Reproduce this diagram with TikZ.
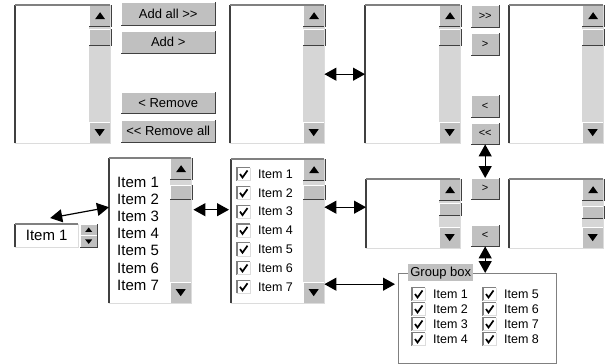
\documentclass[tikz,border=0pt]{standalone}
\usepackage{fontspec}
\setmainfont{Liberation Sans}[Ligatures=TeXOff]
\usetikzlibrary{arrows.meta, calc}
\definecolor{face}{RGB}{192, 192, 192}
\definecolor{dim}{RGB}{64, 64, 64}
\definecolor{rim}{RGB}{128, 128, 128}
\definecolor{pale}{RGB}{220, 220, 220}
\definecolor{track}{RGB}{214, 214, 214}

% raised edge of a button node
\newcommand{\bevel}[1]{%
  \draw[color=white] (#1.south west) -- (#1.north west) -- (#1.north east);
  \draw[color=dim, line width=1.5pt] (#1.south west) -- (#1.south east) -- (#1.north east);
}
% sunken edge of a list node
\newcommand{\sunk}[1]{%
  \draw[color=dim, line width=1.6pt] (#1.south west) -- (#1.north west);
  \draw[color=rim, line width=1.2pt] (#1.north west) -- (#1.north east);
  \draw[color=pale] (#1.north east) -- (#1.south east) -- (#1.south west);
}
% scroll bar: list node, thumb offset, thumb length
\newcommand{\scrl}[3]{%
  \path (#1.north east) ++(-21,0) coordinate (s1) ++(0,#2) coordinate (s2);
  \fill[color=track] (s1) rectangle (#1.south east);
  \node[push, minimum width=21pt, minimum height=21pt] (#1up) at (s1) {};
  \bevel{#1up}
  \fill (#1up.center) ++(-5,3.5) -- ++(10,0) -- ++(-5,-7) -- cycle;
  \node[push, minimum width=21pt, minimum height=#3pt] (#1th) at (s2) {};
  \bevel{#1th}
  \node[push, minimum width=21pt, minimum height=21pt, anchor=south east] (#1dn) at (#1.south east) {};
  \bevel{#1dn}
  \fill (#1dn.center) ++(-5,-3.5) -- ++(10,0) -- ++(-5,7) -- cycle;
}
% ticked check box at top left corner
\newcommand{\tickbox}[2]{%
  \fill[color=white] (#1,#2) rectangle ++(13,13);
  \draw[color=rim, line width=1.2pt] (#1,#2) ++(0,13) -- ++(0,-13) -- ++(13,0);
  \draw[color=pale] (#1,#2) ++(13,0) -- ++(0,13) -- ++(-13,0);
  \draw[line width=1.7pt] (#1,#2) ++(3,6.5) -- ++(2.5,3.5) -- ++(5,-7);
}

\begin{document}
\begin{tikzpicture}[x=1pt, y=-1pt,
  box/.style={fill=white, inner sep=0pt, anchor=north west},
  push/.style={fill=face, inner sep=0pt, anchor=north west, font=\fontsize{13}{15}\selectfont},
  tiny/.style={push, minimum width=28pt, font=\fontsize{11}{13}\selectfont},
  itm/.style={anchor=west, inner sep=0pt, font=\fontsize{15}{17}\selectfont},
  sml/.style={anchor=west, inner sep=0pt, font=\fontsize{12.5}{14}\selectfont},
  link/.style={<->, >={Triangle[length=12pt, width=13pt]}, line width=1.2pt}]
  \useasboundingbox (0,0) rectangle (605,364);

  % Top row
  \node[box, minimum width=95pt, minimum height=138pt] (lbA) at (15,5) {};
  \scrl{lbA}{24}{16}
  \sunk{lbA}

  \node[push, minimum width=94pt, minimum height=23pt] (bAll) at (121,2) {Add all >>};
  \bevel{bAll}
  \node[push, minimum width=94pt, minimum height=22pt] (bAdd) at (121,31) {Add >};
  \bevel{bAdd}
  \node[push, minimum width=94pt, minimum height=21pt] (bRem) at (121,92) {< Remove};
  \bevel{bRem}
  \node[push, minimum width=94pt, minimum height=22pt] (bRemAll) at (121,120) {<< Remove all};
  \bevel{bRemAll}

  \node[box, minimum width=94pt, minimum height=138pt] (lbB) at (230,5) {};
  \scrl{lbB}{24}{16}
  \sunk{lbB}

  \node[box, minimum width=95pt, minimum height=138pt] (lbC) at (365,5) {};
  \scrl{lbC}{24}{16}
  \sunk{lbC}

  \node[tiny, minimum height=22pt] (bRR) at (471,5) {>>};
  \bevel{bRR}
  \node[tiny, minimum height=22pt] (bR) at (471,33) {>};
  \bevel{bR}
  \node[tiny, minimum height=22pt] (bL) at (471,95) {<};
  \bevel{bL}
  \node[tiny, minimum height=21pt] (bLL) at (471,123) {<<};
  \bevel{bLL}

  \node[box, minimum width=94pt, minimum height=138pt] (lbD) at (509,5) {};
  \scrl{lbD}{24}{16}
  \sunk{lbD}

  % Bottom row
  \node[box, minimum width=63pt, minimum height=23pt, font=\fontsize{15}{17}\selectfont] (spin) at (15,224) {Item 1};
  \sunk{spin}
  \node[push, minimum width=17pt, minimum height=11.5pt] (spinUp) at (80,224) {};
  \bevel{spinUp}
  \fill (spinUp.center) ++(-3.5,2) -- ++(7,0) -- ++(-3.5,-4.5) -- cycle;
  \node[push, minimum width=17pt, minimum height=11.5pt] (spinDn) at (80,235.5) {};
  \bevel{spinDn}
  \fill (spinDn.center) ++(-3.5,-2) -- ++(7,0) -- ++(-3.5,4.5) -- cycle;

  \node[box, minimum width=82pt, minimum height=145pt] (lbE) at (109,158) {};
  \scrl{lbE}{27}{14}
  \sunk{lbE}
  \foreach \i in {1,...,7}
    \node[itm] (lbE-\i) at (117,{182+17.2*(\i-1)}) {Item \i};

  \node[box, minimum width=93pt, minimum height=144pt] (chk) at (231,159) {};
  \scrl{chk}{26}{14}
  \sunk{chk}
  \foreach \i in {1,...,7} {
    \pgfmathsetmacro{\yy}{174+18.8*(\i-1)}
    \tickbox{237}{\yy-6.5}
    \node[sml] (chk-\i) at (258,\yy) {Item \i};
  }

  \node[box, minimum width=94pt, minimum height=69pt] (lbF) at (366,179) {};
  \scrl{lbF}{24}{12}
  \sunk{lbF}

  \node[tiny, minimum height=21pt] (bR2) at (471,178) {>};
  \bevel{bR2}
  \node[tiny, minimum height=21pt] (bL2) at (471,225) {<};
  \bevel{bL2}

  \node[box, minimum width=94pt, minimum height=69pt] (lbG) at (509,179) {};
  \scrl{lbG}{27}{12}
  \sunk{lbG}

  % Group box
  \node[box, draw=rim, minimum width=158pt, minimum height=90pt] (grp) at (398,273) {};
  \node[push, minimum width=65pt, minimum height=17pt] (grpLbl) at (408,264) {Group box};
  \foreach \i in {1,...,4} {
    \pgfmathsetmacro{\yy}{294+15*(\i-1)}
    \pgfmathtruncatemacro{\j}{\i+4}
    \tickbox{412}{\yy-6.5}
    \tickbox{483}{\yy-6.5}
    \node[sml] (grp-\i) at (433,\yy) {Item \i};
    \node[sml] (grp-\j) at (504,\yy) {Item \j};
  }

  % Links
  \coordinate (f1) at ([yshift=6.5pt]lbF.west);
  \coordinate (g1) at ([yshift=34pt]grp.west);
  \draw[link] (lbB) -- (lbC);
  \draw[link] (bLL) -- (bR2);
  \draw[link] (bL2.south) -- (bL2.south |- grp.north);
  \draw[link] ([xshift=3.5pt, yshift=6pt]spin.north) -- ([yshift=23.5pt]lbE.west);
  \draw[link, shorten <=2pt, shorten >=2pt] ([yshift=21pt]lbE.east) -- ([yshift=21pt]lbE.east -| chk.west);
  \draw[link] (chk.east |- f1) -- (f1);
  \draw[link, shorten >=3pt] (chk.east |- g1) -- (g1);
\end{tikzpicture}
\end{document}
